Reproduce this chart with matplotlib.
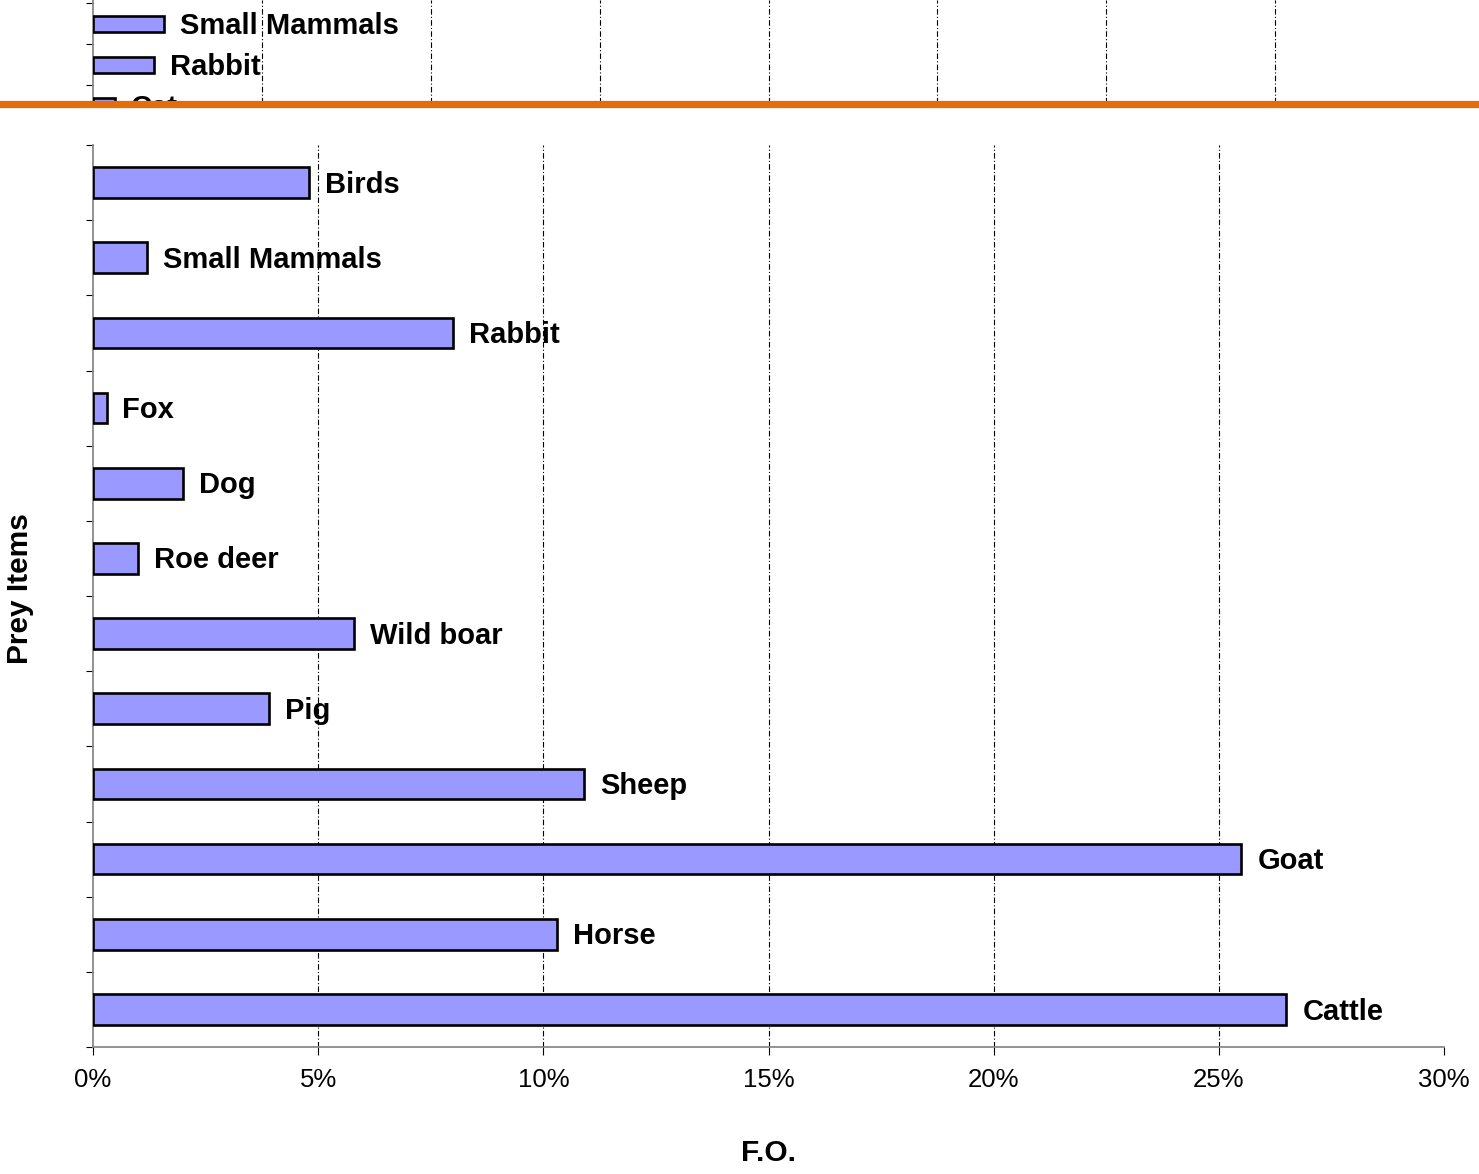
import matplotlib
matplotlib.use("Agg")
import matplotlib.pyplot as plt
from matplotlib.lines import Line2D
from matplotlib.ticker import FixedLocator, NullFormatter

plt.rcParams['font.family'] = ['Liberation Sans', 'DejaVu Sans']

# Frequency of occurrence (%) of each prey item
categories = ["Birds", "Small Mammals", "Rabbit", "Fox", "Dog", "Roe deer",
              "Wild boar", "Pig", "Sheep", "Goat", "Horse", "Cattle"]
fo_values = [4.8, 1.2, 8.0, 0.3, 2.0, 1.0, 5.8, 3.9, 10.9, 25.5, 10.3, 26.5]
x_ticks = [0, 5, 10, 15, 20, 25, 30]
x_tick_labels = ["0%", "5%", "10%", "15%", "20%", "25%", "30%"]

# Fragment of the companion chart shown above the divider
strip_categories = ["Small Mammals", "Rabbit", "Cat"]
strip_values = [2.1, 1.8, 0.65]

W, H = 1479, 1174
fig = plt.figure(figsize=(W / 100, H / 100), dpi=100)

BAR_FACE = "#9999FF"
GRID_KW = dict(color="black", linewidth=0.8, linestyle=(0, (5, 2, 1, 2)))
SPINE_GRAY = "#808080"
LABEL_SIZE = 21

def px_box(left, top, right, bottom):
    return [left / W, 1 - bottom / H, (right - left) / W, (bottom - top) / H]

# ---- main chart ----
ax = fig.add_axes(px_box(93, 145, 1444, 1047))
ypos = list(range(len(categories)))
ax.barh(ypos, fo_values, height=0.41, color=BAR_FACE, edgecolor="black",
        linewidth=1.9, zorder=3)
for y, v, name in zip(ypos, fo_values, categories):
    ax.annotate(name, (v, y), xytext=(11.5, -1.5), textcoords="offset points",
                ha="left", va="center", fontsize=LABEL_SIZE, fontweight="bold", zorder=4)

ax.set_xlim(0, 30)
ax.set_ylim(len(categories) - 0.5, -0.5)
ax.set_xticks(x_ticks)
ax.set_xticklabels(x_tick_labels, fontsize=18.5)
ax.yaxis.set_major_locator(FixedLocator([i - 0.5 for i in range(len(categories) + 1)]))
ax.yaxis.set_major_formatter(NullFormatter())
ax.tick_params(axis="x", direction="out", length=6, width=0.8, color="black", pad=9)
ax.tick_params(axis="y", direction="out", length=5, width=0.8, color="black")
for s in ("top", "right"):
    ax.spines[s].set_visible(False)
for s in ("left", "bottom"):
    ax.spines[s].set_color(SPINE_GRAY)
    ax.spines[s].set_linewidth(1.2)
for xv in x_ticks[1:-1]:
    ax.axvline(xv, zorder=1, **GRID_KW)

ax.set_xlabel("F.O.", fontsize=21.5, fontweight="bold", va="center")
ax.xaxis.set_label_coords(0.5, -0.1175)
ax.set_ylabel("Prey Items", fontsize=21.5, fontweight="bold", va="center", ha="center")
ax.yaxis.set_label_coords(-0.054, 0.508)

# ---- strip of the companion chart ----
ax2 = fig.add_axes(px_box(93, 0, 1444, 103))
sy = list(range(len(strip_categories)))
ax2.barh(sy, strip_values, height=0.39, color=BAR_FACE, edgecolor="black",
         linewidth=1.9, zorder=3)
for y, v, name in zip(sy, strip_values, strip_categories):
    ax2.annotate(name, (v, y), xytext=(11.5, -1.5), textcoords="offset points",
                 ha="left", va="center", fontsize=LABEL_SIZE, fontweight="bold",
                 zorder=4, annotation_clip=False, clip_on=True)
ax2.set_xlim(0, 40)
ax2.set_ylim(1.927, -0.585)
ax2.set_xticks([])
ax2.yaxis.set_major_locator(FixedLocator([-0.5, 0.5, 1.5]))
ax2.yaxis.set_major_formatter(NullFormatter())
ax2.tick_params(axis="y", direction="out", length=5, width=0.8, color="black")
for s in ("top", "right", "bottom"):
    ax2.spines[s].set_visible(False)
ax2.spines["left"].set_color(SPINE_GRAY)
ax2.spines["left"].set_linewidth(1.2)
for xv in range(5, 40, 5):
    ax2.axvline(xv, zorder=1, **GRID_KW)

# orange divider
yline = 1 - 103.5 / H
fig.add_artist(Line2D([0, 1], [yline, yline], transform=fig.transFigure,
                      color="#E46C0A", linewidth=5.2, zorder=10))

fig.savefig("out.png", dpi=100, facecolor="white")
